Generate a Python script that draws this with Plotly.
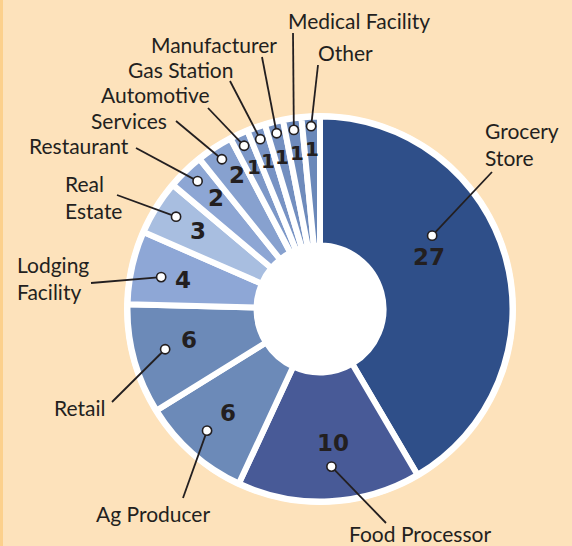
import math
import plotly.graph_objects as go

# ---------------- data ----------------
categories = ["Grocery Store", "Food Processor", "Ag Producer", "Retail",
              "Lodging Facility", "Real Estate", "Restaurant", "Services",
              "Automotive", "Gas Station", "Manufacturer", "Medical Facility", "Other"]
counts = [27, 10, 6, 6, 4, 3, 2, 2, 1, 1, 1, 1, 1]
label_text = ["Grocery<br>Store", "Food Processor", "Ag Producer", "Retail",
              "Lodging<br>Facility", "Real<br>Estate", "Restaurant", "Services",
              "Automotive", "Gas Station", "Manufacturer", "Medical Facility", "Other"]

# ---------------- style ----------------
colors = ["#2F4F89", "#485A97", "#6C8AB8", "#6C8AB8", "#8EA7D6", "#A8BEE0",
          "#8DA6D4", "#87A1CF", "#7D98C8", "#7893C4", "#738FC0", "#6E8BBC", "#6A88B9"]
W, H = 572, 546
CX, CY, R = 320, 309, 192.5
HOLE = 0.33
INK = "#231F20"

# placement per slice: (dot fraction of slice, dot radius, number fraction, number radius)
place = [(0.38, 134, 0.43, 121), (0.475, 158, 0.45, 135), (0.54, 166, 0.50, 139),
         (0.52, 160, 0.56, 135), (0.45, 162, 0.48, 140), (0.55, 171, 0.54, 145),
         (0.55, 177, 0.60, 152), (0.50, 179, 0.64, 158), (0.5, 180, 0.5, 157),
         (0.5, 180, 0.5, 157), (0.5, 181, 0.5, 157), (0.5, 181, 0.5, 158), (0.5, 183, 0.5, 160)]
# leader line end near label (pixels)
line_end = [(492, 172), (386, 523), (183, 498), (112, 402), (91, 283), (117, 195),
            (136, 148), (176, 121), (208, 108), (230, 81), (262, 57), (293, 33), (318, 65)]
# label anchor (pixels) and alignment
label_pos = [(483, 144, "left"), (347, 533, "left"), (94, 513, "left"), (52, 407, "left"),
             (15, 278, "left"), (63, 197, "left"), (27, 146, "left"), (89, 120, "left"),
             (212, 94, "right"), (236, 69, "right"), (279, 44, "right"),
             (286, 21, "left"), (316, 52, "left")]


def px(x):
    return x / W


def py(y):
    return 1 - y / H


def polar(angle_deg, r):
    a = math.radians(angle_deg)
    return CX + r * math.sin(a), CY - r * math.cos(a)


total = sum(counts)
starts, ends = [], []
acc = 0
for v in counts:
    starts.append(acc / total * 360)
    acc += v
    ends.append(acc / total * 360)

fig = go.Figure()
fig.add_trace(go.Pie(
    values=counts, labels=categories, sort=False, direction="clockwise", rotation=0,
    hole=HOLE, textinfo="none", hoverinfo="label+value", showlegend=False,
    marker=dict(colors=colors, line=dict(color="white", width=6)),
    domain=dict(x=[(CX - R) / W, (CX + R) / W], y=[(H - CY - R) / H, (H - CY + R) / H]),
))

shapes = [
    dict(type="rect", xref="paper", yref="paper", x0=0, x1=px(3), y0=0, y1=1,
         fillcolor="#FCD08C", line=dict(width=0), layer="below"),
    dict(type="circle", xref="paper", yref="paper", x0=px(CX - 196), x1=px(CX + 196),
         y0=py(CY + 196), y1=py(CY - 196), fillcolor="white", line=dict(width=0), layer="below"),
]
annotations = []
for i, v in enumerate(counts):
    s, e = starts[i], ends[i]
    df, dr, nf, nr = place[i]
    dx, dy = polar(s + df * (e - s), dr)
    nx, ny = polar(s + nf * (e - s), nr)
    lx, ly = line_end[i]
    shapes.append(dict(type="line", xref="paper", yref="paper", x0=px(dx), y0=py(dy),
                       x1=px(lx), y1=py(ly), line=dict(color=INK, width=1.8), layer="above"))
    rr = 4.6
    shapes.append(dict(type="circle", xref="paper", yref="paper", x0=px(dx - rr), x1=px(dx + rr),
                       y0=py(dy + rr), y1=py(dy - rr), fillcolor="white",
                       line=dict(color=INK, width=1.6), layer="above"))
    nsize = 23 if v > 1 else 20
    annotations.append(dict(x=px(nx), y=py(ny), xref="paper", yref="paper", text=str(v),
                            showarrow=False, xanchor="center", yanchor="middle",
                            font=dict(family="DejaVu Sans", size=nsize, color=INK, weight="bold")))
    tx, ty, anc = label_pos[i]
    annotations.append(dict(x=px(tx), y=py(ty), xref="paper", yref="paper", text=label_text[i],
                            showarrow=False, xanchor=anc, yanchor="middle", align=anc,
                            font=dict(family="Lato", size=21, color=INK)))

fig.update_layout(
    width=W, height=H, margin=dict(l=0, r=0, t=0, b=0),
    paper_bgcolor="#FDE2BB", plot_bgcolor="#FDE2BB",
    shapes=shapes, annotations=annotations,
)
fig.write_html("out.html")
